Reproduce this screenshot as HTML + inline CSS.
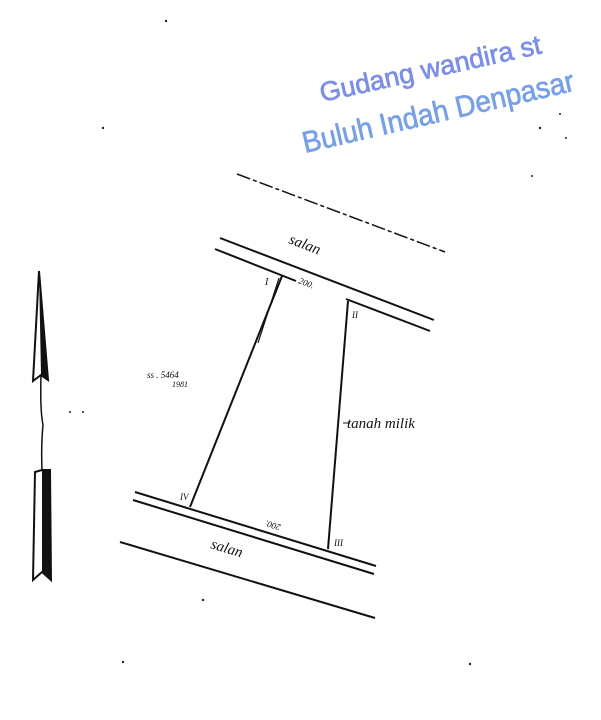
<!DOCTYPE html>
<html><head><meta charset="utf-8"><style>html,body{margin:0;padding:0;background:#fff;width:601px;height:720px;overflow:hidden}</style></head>
<body>
<svg width="601" height="720" viewBox="0 0 601 720" xmlns="http://www.w3.org/2000/svg">
<g fill="none" stroke="#111" stroke-width="2">
<line x1="237" y1="174" x2="445" y2="252" stroke-dasharray="14 3 4 3" stroke-width="1.5"/>
<line x1="220" y1="238" x2="434" y2="320"/>
<line x1="215" y1="249" x2="296" y2="281"/>
<line x1="346" y1="299" x2="430" y2="331"/>
<line x1="135" y1="492" x2="376" y2="566"/>
<line x1="133" y1="500" x2="374" y2="574"/>
<line x1="120" y1="542" x2="375" y2="618"/>
<line x1="282" y1="276" x2="190" y2="507"/>
<line x1="279" y1="278" x2="258" y2="343" stroke-width="1.2"/>
<line x1="348" y1="301" x2="328" y2="549"/>
<line x1="343" y1="423" x2="350" y2="423" stroke-width="1"/>
</g>
<path d="M39 271 L48 380 L41 375 L33 381 Z" fill="#fff" stroke="#111" stroke-width="2"/>
<path d="M39 271 L48 380 L41 375 Z" fill="#111"/>
<path d="M41 376 Q40 410 43 425 Q41 445 42 470" fill="none" stroke="#111" stroke-width="1.5"/>
<path d="M35 472 L42 470 L50 470 L51 580 L42 572 L33 580 Z" fill="#fff" stroke="#111" stroke-width="2"/>
<path d="M42 470 L50 470 L51 580 L42 572 Z" fill="#111"/>
<g font-family="Liberation Serif, serif" font-style="italic" fill="#111">
<text x="288" y="243" font-size="15" transform="rotate(21 288 243)">salan</text>
<text x="210" y="548" font-size="15" transform="rotate(17 210 548)">salan</text>
<text x="347" y="428" font-size="15">tanah milik</text>
<text x="147" y="378" font-size="9">ss . 5464</text>
<text x="172" y="387" font-size="8">1981</text>
<text x="298" y="283" font-size="9" transform="rotate(21 298 283)">200.</text>
<text x="255" y="527" font-size="9" transform="rotate(197 268 524)">200.</text>
<text x="265" y="285" font-size="10">I</text>
<text x="352" y="318" font-size="9">II</text>
<text x="180" y="500" font-size="9">IV</text>
<text x="334" y="546" font-size="9">III</text>
</g>
<g font-family="Liberation Sans, sans-serif" stroke-width="0.7">
<text x="322" y="102" font-size="27" fill="#7d8ee6" stroke="#7d8ee6" textLength="226" lengthAdjust="spacingAndGlyphs" transform="rotate(-12.5 322 102)">Gudang wandira st</text>
<text x="305" y="153" font-size="30" fill="#78a0e6" stroke="#78a0e6" textLength="278" lengthAdjust="spacingAndGlyphs" transform="rotate(-13 305 153)">Buluh Indah Denpasar</text>
</g>
<g fill="#222">
<circle cx="166" cy="21" r="1.2"/><circle cx="103" cy="128" r="1.2"/><circle cx="540" cy="128" r="1.2"/>
<circle cx="532" cy="176" r="1"/><circle cx="70" cy="412" r="1"/><circle cx="83" cy="412" r="1"/>
<circle cx="203" cy="600" r="1.2"/><circle cx="123" cy="662" r="1.2"/><circle cx="470" cy="664" r="1.2"/>
<circle cx="560" cy="114" r="1"/><circle cx="566" cy="138" r="1"/>
</g>
</svg>
</body></html>
